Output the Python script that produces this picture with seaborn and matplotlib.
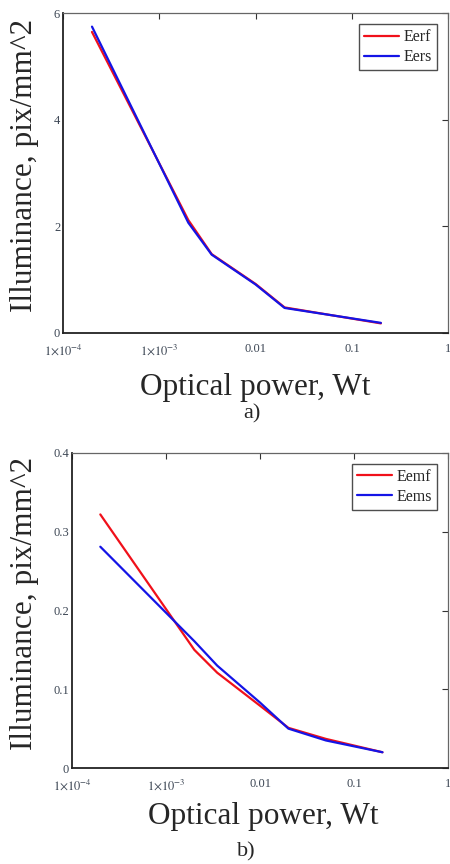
#!/usr/bin/env python3
"""Illuminance vs optical power, two panels (a, b), log x axis."""

import pandas as pd
import matplotlib
matplotlib.use("Agg")
import matplotlib.pyplot as plt
import seaborn as sns

# --- Data ---
POWER_A = [2e-4, 2e-3, 3.5e-3, 0.01, 0.02, 0.2]
EERF = [5.65, 2.12, 1.48, 0.92, 0.48, 0.18]
EERS = [5.75, 2.07, 1.47, 0.91, 0.47, 0.19]

POWER_B = [2e-4, 2e-3, 3.5e-3, 0.01, 0.02, 0.05, 0.2]
EEMF = [0.322, 0.150, 0.121, 0.079, 0.051, 0.037, 0.020]
EEMS = [0.281, 0.161, 0.130, 0.083, 0.050, 0.035, 0.020]

X_TICKS = [1e-4, 1e-3, 1e-2, 1e-1, 1]
X_TICK_LABELS = [r"$1{\times}10^{-4}$", r"$1{\times}10^{-3}$", "0.01", "0.1", "1"]
Y_TICKS_A = [0, 2, 4, 6]
Y_TICKS_B = [0, 0.1, 0.2, 0.3, 0.4]

RED = "#f0101a"
BLUE = "#1414e6"
TICK_COLOR = "#3c4654"

sns.set_style("white")
plt.rcParams["font.family"] = ["Liberation Serif", "DejaVu Serif"]
plt.rcParams["mathtext.fontset"] = "stix"


def long_frame(x, series):
    rows = []
    for name, ys in series.items():
        for xv, yv in zip(x, ys):
            rows.append({"power": xv, "value": yv, "series": name})
    return pd.DataFrame(rows)


def draw_panel(ax, df, names, yticks, ylim):
    sns.lineplot(data=df, x="power", y="value", hue="series",
                 palette={names[0]: RED, names[1]: BLUE}, hue_order=names,
                 linewidth=1.6, sort=False, ax=ax, legend=False)
    ax.set_xscale("log")
    ax.set_xlim(1e-4, 1)
    ax.set_ylim(*ylim)
    ax.set_xticks(X_TICKS)
    ax.set_xticklabels(X_TICK_LABELS)
    ax.minorticks_off()
    ax.set_yticks(yticks)
    ax.set_yticklabels([f"{t:g}" for t in yticks])
    ax.set_xlabel("")
    ax.set_ylabel("")
    ax.tick_params(direction="in", length=4, width=0.8, top=True, right=True,
                   labelsize=9, labelcolor=TICK_COLOR, color="#333333")
    ax.tick_params(axis="x", pad=7)
    ax.tick_params(axis="y", pad=2)
    for side in ("left", "bottom"):
        ax.spines[side].set_color("#222222")
        ax.spines[side].set_linewidth(1.3)
    for side in ("top", "right"):
        ax.spines[side].set_color("#666666")
        ax.spines[side].set_linewidth(0.9)
    leg = ax.legend(handles=ax.get_lines()[:2], labels=names, loc="upper right",
                    fontsize=11.5, frameon=True, fancybox=False, edgecolor="#222222",
                    handlelength=2.2, handletextpad=0.3, borderpad=0.3,
                    labelspacing=0.25, borderaxespad=0.7)
    leg.get_frame().set_linewidth(1.0)


fig = plt.figure(figsize=(4.5, 8.64), dpi=100)

ax1 = fig.add_axes([0.140, 0.6146, 0.856, 0.370])
df_a = long_frame(POWER_A, {"Eerf": EERF, "Eers": EERS})
draw_panel(ax1, df_a, ["Eerf", "Eers"], Y_TICKS_A, (0, 6))

ax2 = fig.add_axes([0.160, 0.1111, 0.836, 0.3646])
df_b = long_frame(POWER_B, {"Eemf": EEMF, "Eems": EEMS})
draw_panel(ax2, df_b, ["Eemf", "Eems"], Y_TICKS_B, (0, 0.4))

label_kw = dict(fontsize=22.5, ha="center", va="center")
fig.text(0.054, 0.809, "Illuminance, pix/mm^2", rotation=90, **label_kw)
fig.text(0.567, 0.551, "Optical power, Wt", **label_kw)
fig.text(0.560, 0.521, "a)", fontsize=16, ha="center", va="center")

fig.text(0.054, 0.301, "Illuminance, pix/mm^2", rotation=90, **label_kw)
fig.text(0.584, 0.055, "Optical power, Wt", **label_kw)
fig.text(0.547, 0.014, "b)", fontsize=16, ha="center", va="center")

fig.savefig("out.png", dpi=100)
plt.close(fig)
